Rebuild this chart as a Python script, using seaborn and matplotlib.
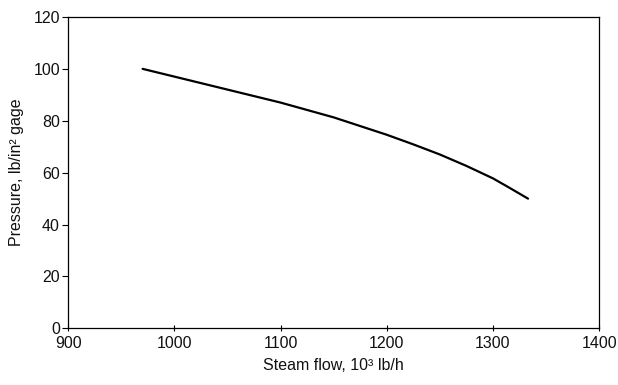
import matplotlib
matplotlib.use("Agg")
import matplotlib.pyplot as plt
import seaborn as sns
import pandas as pd

# values
steam_flow = [970, 1000, 1050, 1100, 1150, 1200, 1225, 1250, 1275, 1300, 1315, 1333]
pressure = [100, 97.0, 92.0, 87.0, 81.3, 74.6, 70.9, 67.0, 62.6, 57.8, 54.3, 50]

x_ticks = [900, 1000, 1100, 1200, 1300, 1400]
y_ticks = [0, 20, 40, 60, 80, 100, 120]

df = pd.DataFrame({"flow": steam_flow, "pressure": pressure})

sns.set_theme(style="white")
plt.rcParams["font.family"] = ["Liberation Sans", "DejaVu Sans"]
plt.rcParams["xtick.bottom"] = True
plt.rcParams["ytick.left"] = True

fig = plt.figure(figsize=(6.18, 3.85), dpi=100)
ax = fig.add_axes([0.1105, 0.147, 0.859, 0.809])

sns.lineplot(data=df, x="flow", y="pressure", ax=ax, color="black", linewidth=1.6)

ax.set_xlim(900, 1400)
ax.set_ylim(0, 120)
ax.set_xticks(x_ticks)
ax.set_yticks(y_ticks)
ax.tick_params(axis="x", bottom=True, direction="inout", length=5, width=0.8, labelsize=11.5, pad=3, color="black")
ax.tick_params(axis="y", left=True, direction="out", length=4, width=0.8, labelsize=11.5, pad=2, color="black")
ax.tick_params(labelcolor="#111111")

for side in ["left", "right", "top", "bottom"]:
    ax.spines[side].set_visible(True)
    ax.spines[side].set_color("black")
    ax.spines[side].set_linewidth(0.9)

ax.set_xlabel("Steam flow, 10³ lb/h", fontsize=11.5, labelpad=5, color="#111111")
ax.set_ylabel("Pressure, lb/in² gage", fontsize=11.5, labelpad=7, color="#111111")

fig.savefig("out.png", dpi=100)
